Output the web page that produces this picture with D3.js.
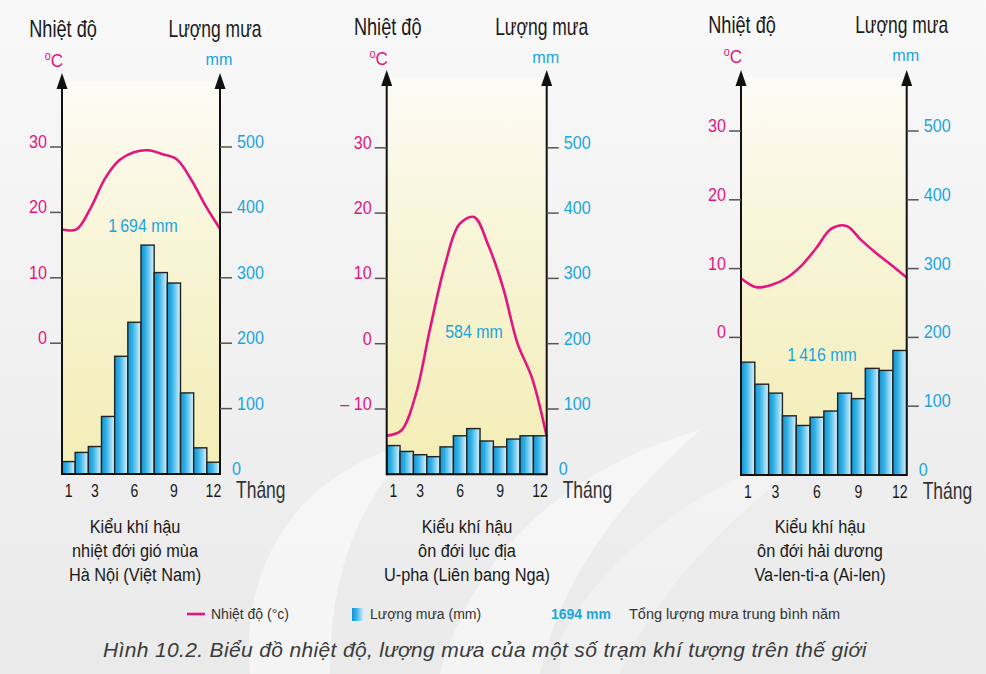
<!DOCTYPE html>
<html>
<head>
<meta charset="utf-8">
<script src="https://cdn.jsdelivr.net/npm/d3@7"></script>
<style>
  html, body { margin: 0; padding: 0; background: #eeeeee; }
  svg { display: block; }
  text { font-family: 'Liberation Sans', Arial, sans-serif; }
</style>
</head>
<body>
<svg id="chart" width="986" height="674"></svg>
<script>
// ---------------- DATA ----------------
const months = [1, 2, 3, 4, 5, 6, 7, 8, 9, 10, 11, 12];
const monthTickLabels = [1, 3, 6, 9, 12];
const tempTicksDefault = [0, 10, 20, 30];
const tempTicksUpha = [-10, 0, 10, 20, 30];
const rainTicks = [0, 100, 200, 300, 400, 500];

const hanoiRain = [19, 33, 42, 88, 180, 232, 350, 308, 292, 124, 40, 18];
const hanoiTemp = [17.4, 17.4, 20.7, 25.2, 28.0, 29.2, 29.5, 28.9, 28.1, 25.0, 21.0, 17.5];

const uphaRain = [44, 35, 30, 27, 42, 59, 70, 51, 42, 54, 59, 59];
const uphaTemp = [-14.1, -13.3, -7.8, 2.5, 12.0, 18.3, 19.4, 15.0, 8.6, 0.0, -5.3, -14.2];

const valentiaRain = [164, 132, 119, 86, 72, 84, 93, 119, 111, 155, 152, 181];
const valentiaTemp = [8.6, 7.3, 7.6, 8.6, 10.4, 13.0, 15.8, 16.2, 14.1, 12.2, 10.5, 8.7];

const totals = ["1\u2009694 mm", "584 mm", "1\u2009416 mm"];
const stationNames = [
  ["Kiểu khí hậu", "nhiệt đới gió mùa", "Hà Nội (Việt Nam)"],
  ["Kiểu khí hậu", "ôn đới lục địa", "U-pha (Liên bang Nga)"],
  ["Kiểu khí hậu", "ôn đới hải dương", "Va-len-ti-a (Ai-len)"]
];
const axisTitleTemp = "Nhiệt độ";
const axisTitleRain = "Lượng mưa";
const unitRain = "mm";
const xTitle = "Tháng";
const legendTemp = "Nhiệt độ (°c)";
const legendRain = "Lượng mưa (mm)";
const legendTotalValue = "1694 mm";
const legendTotalText = "Tổng lượng mưa trung bình năm";
const caption = "Hình 10.2. Biểu đồ nhiệt độ, lượng mưa của một số trạm khí tượng trên thế giới";

// ---------------- LAYOUT ----------------
const PINK = "#e3157f";
const BLUE = "#1ba5de";
const svg = d3.select("#chart");
const defs = svg.append("defs");

// condensed text helper (horizontal compression of Liberation Sans)
function ctext(sel, x, y, size, sx, anchor, fill, str) {
  return sel.append("text")
    .attr("transform", `translate(${x},${y}) scale(${sx},1)`)
    .attr("text-anchor", anchor).attr("font-size", size).attr("fill", fill).text(str);
}

// background
const bg = defs.append("linearGradient").attr("id", "bgGrad").attr("x1", 0).attr("y1", 0).attr("x2", 0).attr("y2", 1);
bg.append("stop").attr("offset", "0%").attr("stop-color", "#f9f9f9");
bg.append("stop").attr("offset", "55%").attr("stop-color", "#f0f0f0");
bg.append("stop").attr("offset", "100%").attr("stop-color", "#eaeaea");
svg.append("rect").attr("width", 986).attr("height", 674).attr("fill", "url(#bgGrad)");
// faint white watermark swooshes
const wm = svg.append("g").attr("fill", "#ffffff").attr("opacity", 0.5);
wm.append("path").attr("d", "M250,674 C240,560 300,470 420,440 C380,480 330,540 330,674 Z");
wm.append("path").attr("d", "M440,674 C470,560 560,470 700,430 C620,500 560,580 540,674 Z");
wm.append("path").attr("d", "M560,640 C600,560 700,480 830,440 C740,510 660,580 620,674 L560,674 Z").attr("opacity", 0.6);

// plot-area gradient
const pg = defs.append("linearGradient").attr("id", "plotGrad").attr("x1", 0).attr("y1", 0).attr("x2", 0).attr("y2", 1);
pg.append("stop").attr("offset", "0%").attr("stop-color", "#fcfcf6");
pg.append("stop").attr("offset", "40%").attr("stop-color", "#f8f5d8");
pg.append("stop").attr("offset", "100%").attr("stop-color", "#f3edb4");

// bar gradient
const bgd = defs.append("linearGradient").attr("id", "barGrad").attr("x1", 0).attr("y1", 0).attr("x2", 1).attr("y2", 0);
bgd.append("stop").attr("offset", "0%").attr("stop-color", "#1592d2");
bgd.append("stop").attr("offset", "35%").attr("stop-color", "#2fb1e6");
bgd.append("stop").attr("offset", "100%").attr("stop-color", "#e2f3fb");

const charts = [
  { L: 62, R: 220, base: 474, px100: 65.4, top: 73, rain: hanoiRain, temp: hanoiTemp, tTicks: tempTicksDefault,
    total: totals[0], totalX: 143, totalMM: 370, names: stationNames[0], nameX: 135, titleY: 37, unitY: 67 },
  { L: 386.7, R: 546.7, base: 474.3, px100: 65.3, top: 70, rain: uphaRain, temp: uphaTemp, tTicks: tempTicksUpha,
    total: totals[1], totalX: 474, totalMM: 209, names: stationNames[1], nameX: 467, titleY: 35, unitY: 65 },
  { L: 741, R: 906.7, base: 475, px100: 68.8, top: 70, rain: valentiaRain, temp: valentiaTemp, tTicks: tempTicksDefault,
    total: totals[2], totalX: 822, totalMM: 166, names: stationNames[2], nameX: 820, titleY: 33, unitY: 63 }
];

charts.forEach(c => {
  const g = svg.append("g");
  const yRain = d3.scaleLinear().domain([0, 500]).range([c.base, c.base - 5 * c.px100]);
  const yTemp = d3.scaleLinear().domain([-20, 30]).range([c.base, c.base - 5 * c.px100]);
  const xBand = d3.scaleBand().domain(months).range([c.L, c.R]).padding(0);
  const xLine = d3.scalePoint().domain(months).range([c.L, c.R]).padding(0);

  // plot background
  g.append("rect").attr("x", c.L).attr("y", c.top + 8).attr("width", c.R - c.L).attr("height", c.base - c.top - 8)
    .attr("fill", "url(#plotGrad)");

  // bars
  g.selectAll("rect.bar").data(c.rain).join("rect").attr("class", "bar")
    .attr("x", (d, i) => xBand(months[i]))
    .attr("width", xBand.bandwidth())
    .attr("y", d => yRain(d))
    .attr("height", d => yRain(0) - yRain(d))
    .attr("fill", "url(#barGrad)")
    .attr("stroke", "#222").attr("stroke-width", 1.4);

  // temperature line
  const line = d3.line().x((d, i) => xLine(months[i])).y(d => yTemp(d)).curve(d3.curveCatmullRom.alpha(0.5));
  g.append("path").datum(c.temp).attr("d", line).attr("fill", "none")
    .attr("stroke", PINK).attr("stroke-width", 2.6).attr("stroke-linejoin", "round");

  // axes lines with arrows
  [c.L, c.R].forEach(x => {
    g.append("line").attr("x1", x).attr("x2", x).attr("y1", c.top + 10).attr("y2", c.base + 1)
      .attr("stroke", "#111").attr("stroke-width", 2);
    g.append("path").attr("d", `M${x},${c.top} L${x - 5.5},${c.top + 16} L${x + 5.5},${c.top + 16} Z`).attr("fill", "#111");
  });
  g.append("line").attr("x1", c.L).attr("x2", c.R).attr("y1", c.base).attr("y2", c.base)
    .attr("stroke", "#111").attr("stroke-width", 2);

  // left temperature ticks
  c.tTicks.forEach(d => {
    const y = yTemp(d);
    g.append("line").attr("x1", c.L - 12).attr("x2", c.L).attr("y1", y).attr("y2", y)
      .attr("stroke", "#555").attr("stroke-width", 1.5);
    ctext(g, c.L - 15, y + 1, 19, 0.85, "end", PINK, d < 0 ? "\u2013 " + Math.abs(d) : String(d));
  });

  // right rain ticks
  rainTicks.forEach(d => {
    const y = yRain(d);
    if (d > 0) g.append("line").attr("x1", c.R).attr("x2", c.R + 12).attr("y1", y).attr("y2", y)
      .attr("stroke", "#555").attr("stroke-width", 1.5);
    ctext(g, d === 0 ? c.R + 12 : c.R + 17, y + 1, 19, 0.85, "start", BLUE, String(d));
  });

  // month labels
  monthTickLabels.forEach(m => {
    ctext(g, xBand(m) + xBand.bandwidth() / 2, c.base + 23, 18, 0.78, "middle", "#1a1a1a", String(m));
  });
  ctext(g, c.R + 16, c.base + 24, 23, 0.76, "start", "#333", xTitle);

  // titles
  ctext(g, c.L + 1, c.titleY, 23, 0.79, "middle", "#1a1a1a", axisTitleTemp);
  ctext(g, c.R - 5, c.titleY, 23, 0.76, "middle", "#1a1a1a", axisTitleRain);
  const uT = g.append("text").attr("transform", `translate(${c.L - 8},${c.unitY}) scale(0.9,1)`)
    .attr("text-anchor", "middle").attr("font-size", 19).attr("fill", PINK);
  uT.append("tspan").attr("font-size", 12).attr("dy", -7).text("o");
  uT.append("tspan").attr("dy", 7).text("C");
  ctext(g, c.R - 1, c.unitY - 2, 17, 0.95, "middle", BLUE, unitRain);

  // total rainfall
  ctext(g, c.totalX, yRain(c.totalMM), 19, 0.84, "middle", BLUE, c.total);

  // station names
  c.names.forEach((d, i) => {
    ctext(g, c.nameX, 533 + i * 24, 19, 0.86, "middle", "#1a1a1a", d);
  });
});

// legend
const lg = svg.append("g");
lg.append("line").attr("x1", 187).attr("x2", 205).attr("y1", 614).attr("y2", 614).attr("stroke", PINK).attr("stroke-width", 2.6);
lg.append("text").attr("x", 211).attr("y", 619).attr("font-size", 14).attr("fill", "#333").text(legendTemp);
lg.append("rect").attr("x", 352).attr("y", 608).attr("width", 12).attr("height", 13).attr("fill", "url(#barGrad)");
lg.append("text").attr("x", 370).attr("y", 619).attr("font-size", 14).attr("fill", "#333").text(legendRain);
lg.append("text").attr("x", 551).attr("y", 619).attr("font-size", 14).attr("font-weight", "bold").attr("fill", BLUE).text(legendTotalValue);
lg.append("text").attr("x", 629).attr("y", 619).attr("font-size", 14.5).attr("fill", "#333").text(legendTotalText);

// caption
svg.append("text").attr("x", 103).attr("y", 657).attr("font-size", 21).attr("letter-spacing", 0.35)
  .attr("font-style", "italic").attr("fill", "#3a3a3a").text(caption);
</script>
</body>
</html>
